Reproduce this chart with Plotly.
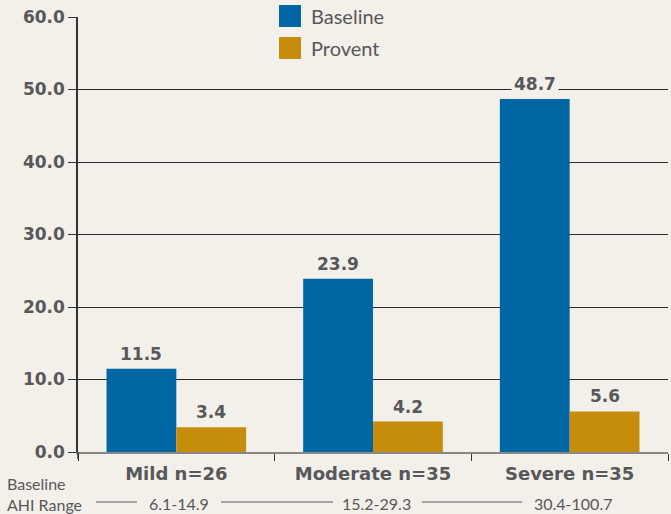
import plotly.graph_objects as go

categories = ["Mild n=26", "Moderate n=35", "Severe n=35"]
baseline = [11.5, 23.9, 48.7]
provent = [3.4, 4.2, 5.6]
ranges = ["6.1-14.9", "15.2-29.3", "30.4-100.7"]
tick_vals = [0, 10, 20, 30, 40, 50, 60]
tick_text = ["0.0", "10.0", "20.0", "30.0", "40.0", "50.0", "60.0"]

BG = "#f3efe9"
BLUE = "#0066a4"
GOLD = "#c68c0c"
GRAY = "#58585a"
BFONT = "DejaVu Sans"
NFONT = "Lato"

fig = go.Figure()
fig.add_trace(go.Bar(x=categories, y=baseline, name="Baseline", marker_color=BLUE,
                     marker_line_width=0))
fig.add_trace(go.Bar(x=categories, y=provent, name="Provent", marker_color=GOLD,
                     marker_line_width=0))

W, H = 671, 514
ml, mr, mt, mb = 78, 3, 17, 62
pw = W - ml - mr
ph = H - mt - mb

def px(x):
    return (x - ml) / pw

def py(y):
    return (H - mb - y) / ph

annotations = []
shapes = []
# value labels
for i, c in enumerate(categories):
    for vals, sh in ((baseline, -35), (provent, 35)):
        annotations.append(dict(x=c, y=vals[i], xref="x", yref="y", text=f"<b>{vals[i]:.1f}</b>",
                                showarrow=False, yanchor="bottom", xshift=sh, yshift=2,
                                font=dict(family=BFONT, size=17, color=GRAY),
                                bgcolor=BG, borderpad=2))

# legend
for j, (name, col) in enumerate((("Baseline", BLUE), ("Provent", GOLD))):
    y0 = 5 + j * 32
    shapes.append(dict(type="rect", xref="paper", yref="paper",
                       x0=px(279), x1=px(301), y0=py(y0 + 22), y1=py(y0),
                       fillcolor=col, line_width=0, layer="above"))
    annotations.append(dict(x=px(309), y=py(y0 + 11), xref="paper", yref="paper", text=name,
                            showarrow=False, xanchor="left", yanchor="middle",
                            font=dict(family=NFONT, size=20, color=GRAY)))

# baseline AHI range row
annotations.append(dict(x=px(5), y=py(494), xref="paper", yref="paper",
                        text="Baseline<br>AHI Range", align="left", showarrow=False,
                        xanchor="left", yanchor="middle",
                        font=dict(family=NFONT, size=16, color=GRAY)))
range_centers = [179, 376, 573]
for c, r in zip(range_centers, ranges):
    annotations.append(dict(x=px(c), y=py(503), xref="paper", yref="paper", text=r,
                            showarrow=False, xanchor="center", yanchor="middle",
                            font=dict(family=NFONT, size=16, color=GRAY)))
for x0, x1 in ((96, 137), (221, 333), (422, 522)):
    shapes.append(dict(type="line", xref="paper", yref="paper", x0=px(x0), x1=px(x1),
                       y0=py(502), y1=py(502), line=dict(color=GRAY, width=1)))
# y-axis extension below zero
shapes.append(dict(type="line", xref="paper", yref="paper", x0=0, x1=0,
                   y0=py(452), y1=py(459), line=dict(color="#333333", width=1.5)))

fig.update_layout(
    width=W, height=H,
    margin=dict(l=ml, r=mr, t=mt, b=mb),
    paper_bgcolor=BG, plot_bgcolor=BG,
    barmode="group", bargap=0.29, bargroupgap=0,
    showlegend=False,
    annotations=annotations, shapes=shapes,
    xaxis=dict(showline=True, linecolor="#8a8886", linewidth=2, ticks="outside",
               tickson="boundaries", ticklen=7, tickcolor="#333333", tickwidth=1,
               ticklabelstandoff=4,
               tickfont=dict(family=BFONT, size=18, color=GRAY, weight="bold"),
               showgrid=False),
    yaxis=dict(range=[0, 60], tickvals=tick_vals, ticktext=tick_text,
               showline=True, linecolor="#333333", linewidth=1.5,
               ticks="outside", ticklen=8, tickcolor="#333333",
               showgrid=True, gridcolor="#2a2a2a", gridwidth=1, zeroline=False,
               tickfont=dict(family=BFONT, size=17, color=GRAY, weight="bold")),
)

fig.write_html("out.html", config={"displayModeBar": False},
               post_script="document.body.style.margin='0';document.body.style.overflow='hidden';")
